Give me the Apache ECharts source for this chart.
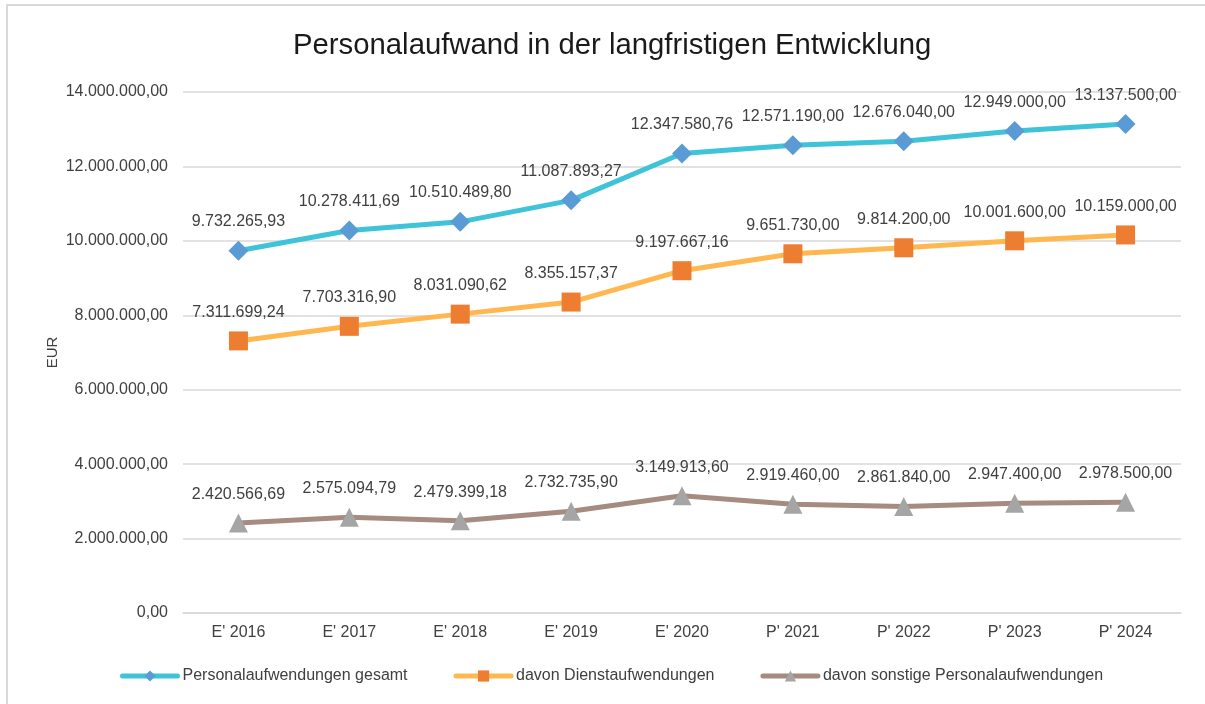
<!DOCTYPE html>
<html>
<head>
<meta charset="utf-8">
<script src="https://cdn.jsdelivr.net/npm/echarts@6/dist/echarts.min.js"></script>
<style>
html,body{margin:0;padding:0;background:#fff;}
#chart{width:1205px;height:704px;}
</style>
</head>
<body>
<div id="chart"></div>
<script>
const categories = ["E' 2016","E' 2017","E' 2018","E' 2019","E' 2020","P' 2021","P' 2022","P' 2023","P' 2024"];
const gesamt = [9732265.93, 10278411.69, 10510489.80, 11087893.27, 12347580.76, 12571190.00, 12676040.00, 12949000.00, 13137500.00];
const dienst = [7311699.24, 7703316.90, 8031090.62, 8355157.37, 9197667.16, 9651730.00, 9814200.00, 10001600.00, 10159000.00];
const sonstige = [2420566.69, 2575094.79, 2479399.18, 2732735.90, 3149913.60, 2919460.00, 2861840.00, 2947400.00, 2978500.00];
const seriesNames = ["Personalaufwendungen gesamt", "davon Dienstaufwendungen", "davon sonstige Personalaufwendungen"];
const titleText = "Personalaufwand in der langfristigen Entwicklung";

function fmt(v){
  const neg = v < 0;
  v = Math.abs(v);
  const fixed = v.toFixed(2);
  let [intPart, dec] = fixed.split('.');
  intPart = intPart.replace(/\B(?=(\d{3})+(?!\d))/g, '.');
  return (neg ? '-' : '') + intPart + ',' + dec;
}

const FONT = "Liberation Sans, Arial, sans-serif";
const chart = echarts.init(document.getElementById('chart'), null, {renderer:'canvas'});

function mkSeries(name, data, lineColor, markerColor, symbol, size){
  return {
    name: name,
    type: 'line',
    data: data,
    symbol: symbol,
    symbolSize: size,
    lineStyle: {color: lineColor, width: 5},
    itemStyle: {color: markerColor},
    label: {
      show: true,
      position: 'top',
      distance: 11,
      formatter: p => fmt(p.value),
      color: '#404040',
      fontSize: 16,
      fontFamily: FONT
    },
    emphasis: {disabled: true},
    animation: false
  };
}

chart.setOption({
  backgroundColor: '#ffffff',
  animation: false,
  title: {
    text: titleText,
    left: 288,
    top: 26,
    textStyle: {fontSize: 29.3, fontWeight: 'normal', color: '#1a1a1a', fontFamily: FONT}
  },
  graphic: [{
    type: 'rect',
    shape: {x: 7, y: 5, width: 1230, height: 730},
    style: {fill: 'none', stroke: '#d9d9d9', lineWidth: 2},
    silent: true
  }],
  legend: {
    bottom: 15,
    left: 115,
    itemGap: 46,
    itemWidth: 55,
    itemHeight: 14,
    lineStyle: {width: 5, cap: 'round'},
    textStyle: {fontSize: 16, color: '#404040', fontFamily: FONT},
    data: seriesNames
  },
  grid: {left: 183, right: 24, top: 92, bottom: 91},
  xAxis: {
    type: 'category',
    data: categories,
    boundaryGap: true,
    axisLine: {show: true, lineStyle: {color: '#d9d9d9', width: 1.5}},
    axisTick: {show: false},
    axisLabel: {color: '#404040', fontSize: 16, fontFamily: FONT, margin: 12}
  },
  yAxis: {
    type: 'value',
    min: 0,
    max: 14000000,
    interval: 2000000,
    name: 'EUR',
    nameLocation: 'middle',
    nameGap: 123,
    nameMoveOverlap: false,
    nameRotate: 90,
    nameTextStyle: {fontSize: 15, color: '#404040', fontFamily: FONT},
    axisLine: {show: false},
    axisTick: {show: false},
    splitLine: {lineStyle: {color: '#d9d9d9', width: 1.5}},
    axisLabel: {color: '#404040', fontSize: 16, fontFamily: FONT, margin: 15, formatter: v => fmt(v)}
  },
  series: [
    mkSeries(seriesNames[0], gesamt, '#3ec3d9', '#5b9bd5', 'diamond', 20),
    mkSeries(seriesNames[1], dienst, '#ffb74f', '#ed7d31', 'rect', 19),
    mkSeries(seriesNames[2], sonstige, '#a68b80', '#a5a5a5', 'triangle', 19)
  ]
});
</script>
</body>
</html>
